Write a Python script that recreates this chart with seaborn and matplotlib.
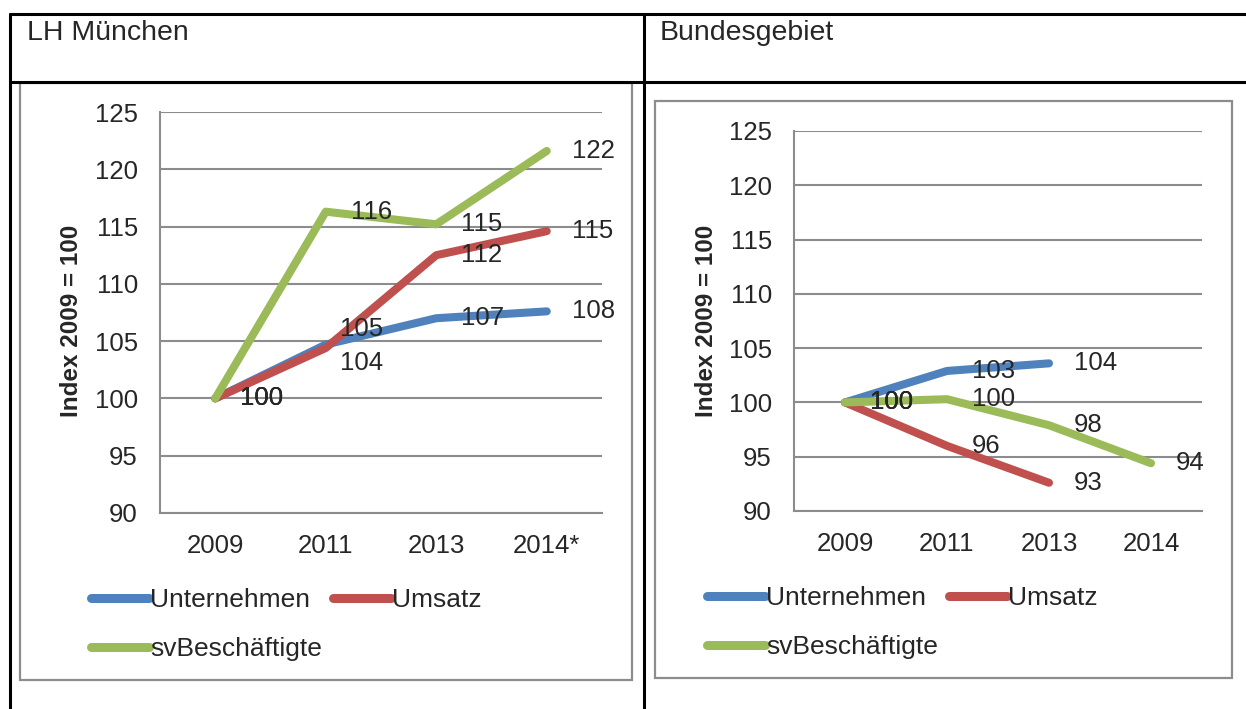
import numpy as np
import pandas as pd
import matplotlib.pyplot as plt
from matplotlib.lines import Line2D
from matplotlib.patches import Rectangle
import seaborn as sns

# --- Daten ---
reihen = ["Unternehmen", "Umsatz", "svBeschäftigte"]
farben = ["#4F81BD", "#C0504D", "#9BBB59"]

jahre_muc = ["2009", "2011", "2013", "2014*"]
muc_unternehmen = [100, 104.7, 107.0, 107.6]
muc_umsatz = [100, 104.4, 112.5, 114.6]
muc_svb = [100, 116.3, 115.2, 121.6]

jahre_bund = ["2009", "2011", "2013", "2014"]
bund_unternehmen = [100, 102.9, 103.6, np.nan]
bund_umsatz = [100, 96.0, 92.6, np.nan]
bund_svb = [100, 100.3, 97.9, 94.4]

titel = ["LH München", "Bundesgebiet"]
y_ticks = [90, 95, 100, 105, 110, 115, 120, 125]

sns.set_style("white")
plt.rcParams['font.family'] = ['Liberation Sans', 'DejaVu Sans']

W, H = 1246, 709
fig = plt.figure(figsize=(W / 100, H / 100), dpi=100)

# --- Tabellenrahmen im Hintergrund (Pixelkoordinaten) ---
bg = fig.add_axes([0, 0, 1, 1])
bg.set_xlim(0, W)
bg.set_ylim(H, 0)
bg.axis("off")
for xs, ys in [((10, W), (14, 14)), ((10, W), (82, 82)),
               ((10, 10), (14, H)), ((644, 644), (14, H))]:
    bg.add_line(Line2D(xs, ys, color="black", lw=2.2))
bg.add_patch(Rectangle((20, 83), 612, 597, fill=False, ec="#8c8c8c", lw=1.6))
bg.add_patch(Rectangle((655, 101), 577, 577, fill=False, ec="#8c8c8c", lw=1.6))
bg.text(27, 33, titel[0], fontsize=20.5, va="center", ha="left")
bg.text(660, 33, titel[1], fontsize=20.5, va="center", ha="left")


def lange_form(jahre, u, s, b):
    df = pd.DataFrame({"Jahr": jahre * 3,
                       "Wert": list(u) + list(s) + list(b),
                       "Reihe": [r for r in reihen for _ in jahre]})
    return df


def zeichne(rect, jahre, u, s, b, legend_xy, ylab_xy, sonder_offsets):
    ax = fig.add_axes([rect[0] / W, 1 - rect[3] / H,
                       (rect[2] - rect[0]) / W, (rect[3] - rect[1]) / H])
    ax.set_facecolor("none")
    df = lange_form(jahre, u, s, b).dropna()
    sns.lineplot(data=df, x="Jahr", y="Wert", hue="Reihe", hue_order=reihen,
                 palette=farben, lw=5.8, sort=False, ax=ax, legend=False,
                 solid_capstyle="round", solid_joinstyle="round")
    ax.set_xlim(-0.5, len(jahre) - 0.5)
    ax.set_ylim(90, 125)
    ax.set_yticks(y_ticks)
    ax.set_xticks(range(len(jahre)))
    ax.set_xticklabels(jahre)
    ax.yaxis.grid(True, color="#8c8c8c", lw=1.5)
    ax.xaxis.grid(False)
    for sp in ["top", "right"]:
        ax.spines[sp].set_visible(False)
    for sp in ["left", "bottom"]:
        ax.spines[sp].set_color("#8c8c8c")
        ax.spines[sp].set_linewidth(1.5)
    ax.tick_params(axis="y", length=0, pad=16, labelsize=18.5)
    ax.tick_params(axis="x", length=0, pad=15, labelsize=18.5)
    ax.set_xlabel("")
    ax.set_ylabel("Index 2009 = 100", fontsize=17.5, fontweight="bold")
    ax.yaxis.set_label_coords(*ylab_xy)

    # Datenbeschriftungen
    for i, werte in enumerate([u, s, b]):
        for j, v in enumerate(werte):
            if np.isnan(v):
                continue
            off = sonder_offsets.get((i, j), (25, 0))
            ax.annotate(f"{v:.0f}", (j, v), xytext=off, textcoords="offset pixels",
                        ha="left", va="center", fontsize=18.5)

    handles = [Line2D([], [], color=c, lw=6.5, solid_capstyle="round") for c in farben]
    # Reihenfolge so, dass die Legende zeilenweise gefüllt wird
    order = [0, 2, 1]
    fig.legend([handles[k] for k in order], [reihen[k] for k in order],
               loc="upper left", bbox_to_anchor=(legend_xy[0] / W, 1 - legend_xy[1] / H),
               ncol=2, frameon=False, fontsize=19, handlelength=2.2,
               handletextpad=0.05, columnspacing=0.4, labelspacing=0.95,
               borderpad=0, borderaxespad=0)
    return ax


zeichne((160, 112, 602, 513), jahre_muc, muc_unternehmen, muc_umsatz, muc_svb,
        legend_xy=(91, 588), ylab_xy=(-0.174, 0.479),
        sonder_offsets={(0, 1): (14, 16), (1, 1): (14, -15)})
zeichne((794, 131, 1202, 511), jahre_bund, bund_unternehmen, bund_umsatz, bund_svb,
        legend_xy=(707, 586), ylab_xy=(-0.186, 0.5),
        sonder_offsets={})

fig.savefig("out.png", dpi=100)
